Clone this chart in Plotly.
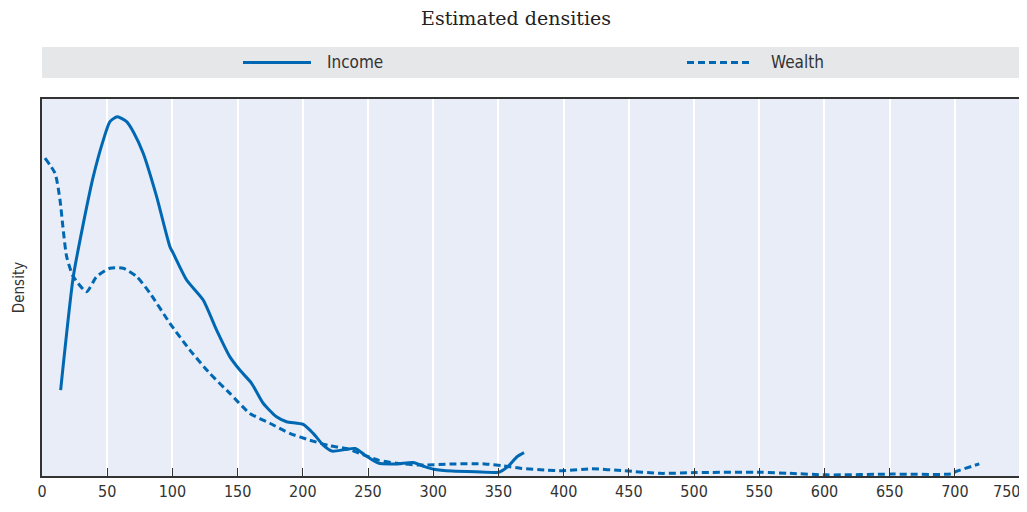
import plotly.graph_objects as go

# Data (density in arbitrary units)
income_x = [14.3, 24, 31.7, 39.3, 47, 52.1, 57.7, 64.9, 70.5, 77.6, 87.9, 98.1, 100.6, 110.9, 123.6, 133.9,
            144.1, 151.7, 160.7, 169.6, 179.8, 187.5, 200.3, 208, 215.6, 222.5, 232, 240.2,
            247.4, 257.9, 272.1, 284.5, 293.4, 300.5, 314.6, 332.4, 350.1, 357.2, 364.3, 369.6]
income_y = [2.28, 5.29, 6.70, 7.94, 8.91, 9.40, 9.53, 9.40, 9.10, 8.56, 7.41, 6.08, 5.91, 5.20, 4.67, 3.87,
            3.16, 2.81, 2.46, 1.93, 1.57, 1.44, 1.37, 1.13, 0.82, 0.66, 0.70, 0.73,
            0.56, 0.34, 0.32, 0.36, 0.25, 0.18, 0.13, 0.11, 0.10, 0.25, 0.51, 0.62]

wealth_x = [2.3, 10, 13.8, 16.3, 18.9, 24, 34.2, 41.9, 52.1, 62.3, 72.6, 82.8, 98.1, 113.4,
            128.7, 144.1, 159.4, 174.7, 190, 205.4, 220.7, 233.2, 258, 272, 290, 314.6,
            339.5, 353.6, 367.8, 385.5, 399.7, 421, 445.8, 474.2, 500.8, 552, 573.4, 601.8,
            651.3, 698, 701, 718.7]
wealth_y = [8.43, 8.03, 7.32, 6.52, 5.82, 5.29, 4.89, 5.29, 5.51, 5.51, 5.29, 4.85, 4.05, 3.34,
            2.72, 2.19, 1.66, 1.40, 1.13, 0.95, 0.80, 0.73, 0.42, 0.34, 0.29, 0.32,
            0.32, 0.27, 0.20, 0.16, 0.14, 0.19, 0.14, 0.07, 0.09, 0.10, 0.07, 0.03,
            0.05, 0.06, 0.12, 0.32]

series_names = ["Income", "Wealth"]
x_ticks = list(range(0, 751, 50))

BLUE = "#0068B3"
FONT = "DejaVu Sans Condensed, Liberation Sans Narrow, Roboto, sans-serif"

# Page has an 8px body margin, so figure is 1019x504 placed at (8, 8)
W, H = 1019, 504
L, R, T, B = 34, 3, 91, 36
PW, PH = W - L - R, H - T - B

fig = go.Figure()
fig.add_trace(go.Scatter(x=income_x, y=income_y, mode="lines", name=series_names[0],
                         line=dict(color=BLUE, width=3, shape="spline", smoothing=0.6),
                         showlegend=False))
fig.add_trace(go.Scatter(x=wealth_x, y=wealth_y, mode="lines", name=series_names[1],
                         line=dict(color=BLUE, width=3, dash="7px,4px", shape="spline", smoothing=0.6),
                         showlegend=False))

def px(xpage):
    return (xpage - 8 - L) / PW

def py(ypage):
    return 1 + (T - (ypage - 8)) / PH

# Legend band and manual legend
fig.add_shape(type="rect", xref="paper", yref="paper", x0=0, x1=1, y0=py(78), y1=py(47),
              fillcolor="#E6E7E9", line=dict(width=0), layer="below")
ly = py(62.5)
fig.add_shape(type="line", xref="paper", yref="paper", x0=px(243), x1=px(311), y0=ly, y1=ly,
              line=dict(color=BLUE, width=3))
fig.add_shape(type="line", xref="paper", yref="paper", x0=px(687), x1=px(752), y0=ly, y1=ly,
              line=dict(color=BLUE, width=3, dash="7px,4px"))
fig.add_annotation(xref="paper", yref="paper", x=px(325), y=ly, text=series_names[0],
                   showarrow=False, xanchor="left", yanchor="middle",
                   font=dict(family=FONT, size=17, color="#333333"))
fig.add_annotation(xref="paper", yref="paper", x=px(769), y=ly, text=series_names[1],
                   showarrow=False, xanchor="left", yanchor="middle",
                   font=dict(family=FONT, size=17, color="#333333"))

# last tick label is pulled inside the page edge, as in the original
fig.add_annotation(xref="x", yref="paper", x=x_ticks[-1], y=py(491), text=str(x_ticks[-1]),
                   showarrow=False, xanchor="right", yanchor="middle", xshift=2,
                   font=dict(family=FONT, size=16, color="#333333"))

fig.update_layout(
    width=W, height=H,
    margin=dict(l=L, r=R, t=T, b=B, autoexpand=False),
    paper_bgcolor="white",
    plot_bgcolor="#E8EDF7",
    title=dict(text="Estimated densities", xref="container", x=(516 - 8) / W, xanchor="center",
               yref="container", y=1 - (18 - 8) / H, yanchor="middle",
               font=dict(family="DejaVu Serif, Liberation Serif, serif", size=19, color="#222222")),
    xaxis=dict(range=[0, 753], tickvals=x_ticks[:-1], ticktext=[str(v) for v in x_ticks[:-1]],
               automargin=False,
               showgrid=True, gridcolor="white", gridwidth=1.5, zeroline=False,
               ticks="inside", ticklen=8, tickcolor="#333333", tickwidth=1,
               showline=True, linecolor="#333333", linewidth=2, mirror=True,
               tickfont=dict(family=FONT, size=16, color="#333333")),
    yaxis=dict(range=[0, 10], showticklabels=False, showgrid=False, zeroline=False,
               automargin=False,
               showline=True, linecolor="#333333", linewidth=2, mirror=True, ticks="",
               title=dict(text="Density", standoff=12,
                          font=dict(family=FONT, size=15, color="#333333"))),
)

fig.write_html("out.html")
